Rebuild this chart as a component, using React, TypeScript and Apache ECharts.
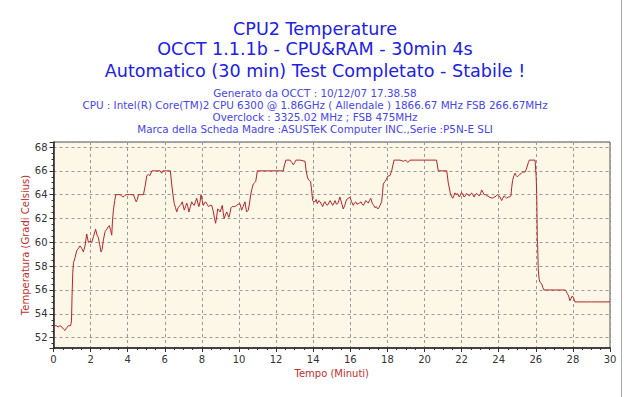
import React, { useEffect, useRef } from "react";
import * as echarts from "echarts";

const titleLines = [
  "CPU2 Temperature",
  "OCCT 1.1.1b - CPU&RAM - 30min 4s",
  "Automatico (30 min) Test Completato - Stabile !",
];
const infoLines = [
  "Generato da OCCT : 10/12/07 17.38.58",
  "CPU : Intel(R) Core(TM)2 CPU 6300 @ 1.86GHz ( Allendale ) 1866.67 MHz FSB 266.67MHz",
  "Overclock : 3325.02 MHz ; FSB 475MHz",
  "Marca della Scheda Madre :ASUSTeK Computer INC.,Serie :P5N-E SLI",
];
const xAxisName = "Tempo (Minuti)";
const yAxisName = "Temperatura (Gradi Celsius)";

// minutes
const times = [
  0.0, 0.15, 0.25, 0.35, 0.45, 0.55, 0.62, 0.7, 0.8, 0.92, 0.97, 1.0, 1.04, 1.08, 1.16, 1.25, 1.35, 1.43, 1.52, 1.61,
  1.7, 1.79, 1.88, 1.97, 2.06, 2.16, 2.27, 2.35, 2.42, 2.49, 2.56, 2.62, 2.69, 2.78, 2.87, 2.95, 3.01, 3.08, 3.14, 3.18,
  3.23, 3.3, 3.36, 3.48, 3.59, 3.67, 3.74, 3.82, 3.92, 4.1, 4.31, 4.38, 4.46, 4.52, 4.58, 4.7, 4.85, 4.95, 5.03, 5.12,
  5.2, 5.3, 5.5, 5.75, 5.83, 5.9, 6.1, 6.3, 6.37, 6.44, 6.51, 6.58, 6.64, 6.72, 6.82, 6.88, 6.94, 7.05, 7.12, 7.18,
  7.24, 7.3, 7.38, 7.45, 7.52, 7.59, 7.65, 7.72, 7.78, 7.84, 7.9, 7.95, 8.02, 8.08, 8.14, 8.2, 8.28, 8.35, 8.44, 8.53,
  8.58, 8.62, 8.68, 8.74, 8.8, 8.85, 8.92, 8.98, 9.04, 9.1, 9.15, 9.2, 9.27, 9.34, 9.4, 9.46, 9.52, 9.57, 9.63, 9.69,
  9.78, 9.87, 9.96, 10.05, 10.14, 10.22, 10.32, 10.41, 10.5, 10.57, 10.63, 10.7, 10.77, 10.84, 10.9, 10.99, 11.5, 12.0, 12.39, 12.45,
  12.53, 12.75, 12.85, 12.93, 13.0, 13.07, 13.3, 13.56, 13.62, 13.7, 13.78, 13.86, 13.92, 13.97, 14.03, 14.1, 14.16, 14.22, 14.3, 14.37,
  14.44, 14.51, 14.58, 14.64, 14.7, 14.76, 14.84, 14.91, 14.98, 15.05, 15.12, 15.18, 15.25, 15.32, 15.38, 15.44, 15.53, 15.62, 15.7, 15.8,
  15.9, 15.98, 16.07, 16.16, 16.22, 16.29, 16.36, 16.43, 16.5, 16.58, 16.64, 16.7, 16.77, 16.83, 16.9, 16.97, 17.03, 17.1, 17.19, 17.26,
  17.33, 17.4, 17.48, 17.54, 17.6, 17.69, 17.74, 17.78, 17.87, 17.95, 18.02, 18.14, 18.23, 18.3, 18.36, 18.68, 18.86, 18.99, 19.1, 19.22,
  19.6, 20.0, 20.4, 20.65, 20.74, 20.9, 21.2, 21.28, 21.41, 21.52, 21.58, 21.64, 21.7, 21.77, 21.88, 22.0, 22.07, 22.13, 22.2, 22.27,
  22.34, 22.41, 22.48, 22.54, 22.6, 22.67, 22.74, 22.81, 22.88, 22.95, 23.02, 23.08, 23.15, 23.21, 23.28, 23.35, 23.42, 23.49, 23.58, 23.67,
  23.73, 23.8, 23.86, 23.92, 24.0, 24.07, 24.16, 24.22, 24.29, 24.36, 24.43, 24.5, 24.57, 24.66, 24.7, 24.75, 24.82, 24.88, 24.94, 25.0,
  25.07, 25.14, 25.22, 25.29, 25.42, 25.48, 25.54, 25.6, 25.65, 25.8, 25.96, 26.02, 26.05, 26.08, 26.1, 26.13, 26.18, 26.23, 26.32, 26.38,
  26.44, 27.0, 27.57, 27.64, 27.7, 27.77, 27.84, 27.9, 27.97, 28.04, 28.11, 29.0, 30.0,
];
// degrees Celsius
const temps = [
  53.0, 53.0, 52.9, 53.0, 52.9, 52.7, 52.6, 52.8, 53.0, 53.0, 53.4, 55.5, 57.5, 58.3, 58.7, 59.3, 59.5, 59.7, 59.5, 59.2,
  59.7, 60.7, 60.0, 60.1, 60.0, 60.5, 61.1, 60.6, 60.4, 59.8, 59.2, 59.4, 60.2, 60.9, 61.1, 61.3, 61.4, 61.0, 60.6, 61.8,
  62.7, 63.5, 64.0, 64.0, 64.0, 63.9, 63.8, 63.9, 64.0, 64.0, 64.0, 63.7, 63.4, 63.6, 64.0, 64.0, 64.0, 64.8, 65.6, 65.7,
  65.6, 66.0, 66.0, 66.0, 65.8, 66.0, 66.0, 66.0, 64.9, 64.0, 63.25, 62.9, 62.55, 62.9, 63.1, 63.2, 63.4, 62.7, 63.0, 63.3,
  63.0, 62.55, 63.0, 63.4, 63.2, 63.1, 63.4, 63.7, 63.3, 63.0, 63.4, 64.0, 63.5, 63.1, 63.3, 63.4, 63.2, 63.0, 63.1, 63.1,
  62.8, 62.55, 62.0, 61.6, 62.2, 62.8, 62.7, 62.55, 62.8, 63.1, 62.5, 62.0, 62.3, 62.55, 62.3, 62.1, 62.5, 62.9, 63.0, 63.0,
  63.0, 63.1, 63.2, 63.25, 62.7, 63.0, 63.4, 62.55, 62.7, 63.3, 64.0, 64.5, 64.9, 65.0, 65.1, 66.0, 66.0, 66.0, 66.0, 66.5,
  66.9, 66.9, 66.7, 66.5, 66.7, 66.9, 66.9, 66.8, 66.0, 65.4, 65.2, 65.1, 64.3, 63.5, 63.4, 63.4, 63.6, 63.25, 63.5, 63.4,
  63.2, 63.0, 63.3, 63.4, 63.2, 63.1, 63.3, 63.5, 63.3, 63.1, 63.3, 63.5, 63.2, 63.25, 63.5, 63.8, 63.3, 62.8, 63.1, 63.6,
  63.7, 63.8, 63.4, 63.1, 63.3, 63.4, 63.2, 63.25, 63.3, 63.4, 63.2, 63.1, 63.3, 63.5, 63.4, 63.3, 63.5, 63.7, 63.25, 63.1,
  62.9, 63.0, 62.8, 62.9, 63.1, 63.4, 64.2, 64.9, 65.1, 65.3, 65.55, 65.6, 66.0, 66.5, 66.9, 66.9, 66.8, 66.9, 66.7, 66.9,
  66.9, 66.9, 66.9, 66.9, 66.0, 66.0, 66.0, 65.0, 64.0, 63.7, 63.9, 64.15, 64.0, 64.1, 63.8, 64.2, 64.0, 63.8, 63.9, 64.1,
  64.0, 63.9, 64.0, 64.15, 64.0, 63.8, 64.0, 64.1, 64.0, 63.9, 64.1, 64.4, 64.2, 64.0, 64.0, 63.9, 63.9, 63.8, 63.75, 63.7,
  63.8, 63.8, 63.9, 64.0, 63.9, 63.8, 63.5, 63.7, 63.9, 63.8, 63.7, 63.8, 63.8, 63.9, 64.6, 65.2, 65.6, 65.8, 65.6, 65.5,
  65.6, 65.7, 65.8, 65.9, 65.9, 66.1, 66.4, 66.7, 66.9, 66.9, 66.9, 65.5, 64.0, 60.3, 59.8, 57.8, 56.9, 56.65, 56.5, 56.2,
  56.0, 56.0, 56.0, 55.9, 55.7, 55.5, 55.1, 55.3, 55.5, 55.3, 55.0, 55.0, 55.0,
];

const seriesData = times.map((t, i) => [t, temps[i]]);

export default function App() {
  const ref = useRef<HTMLDivElement>(null);
  useEffect(() => {
    if (!ref.current) return;
    const chart = echarts.init(ref.current, null, { renderer: "svg" });
    const font = "DejaVu Sans";
    const graphics: any[] = [
      {
        type: "line",
        shape: { x1: 621.5, y1: 0, x2: 621.5, y2: 397 },
        style: { stroke: "#a8a8a8", lineWidth: 1 },
      },
    ];
    const titleY = [29, 49, 71];
    titleLines.forEach((t, i) =>
      graphics.push({
        type: "text",
        x: 315,
        y: titleY[i],
        style: {
          text: t,
          fill: "#2020e6",
          fontSize: 17.6,
          fontFamily: font,
          textAlign: "center",
          textVerticalAlign: "middle",
        },
      })
    );
    const infoY = [93, 105, 117, 129];
    infoLines.forEach((t, i) =>
      graphics.push({
        type: "text",
        x: 315,
        y: infoY[i],
        style: {
          text: t,
          fill: "#4646f0",
          fontSize: 10.4,
          fontFamily: font,
          textAlign: "center",
          textVerticalAlign: "middle",
        },
      })
    );
    chart.setOption({
      animation: false,
      backgroundColor: "#ffffff",
      graphic: graphics,
      grid: {
        left: 53.5,
        right: 20,
        top: 142,
        bottom: 49,
        show: true,
        backgroundColor: "#fdf7e8",
        borderColor: "#555",
        borderWidth: 1,
      },
      xAxis: {
        type: "value",
        min: 0,
        max: 30,
        interval: 2,
        name: xAxisName,
        nameLocation: "middle",
        nameGap: 20,
        nameMoveOverlap: false,
        nameTextStyle: { color: "#c03030", fontSize: 10, fontFamily: font },
        axisLine: { show: true, lineStyle: { color: "#222", width: 1.5 } },
        axisTick: { show: true, length: 4, lineStyle: { color: "#333" } },
        minorTick: { show: true, splitNumber: 4, length: 2, lineStyle: { color: "#333" } },
        axisLabel: { color: "#333", fontSize: 10, fontFamily: font, margin: 6 },
        splitLine: { show: true, lineStyle: { color: "#999", type: [3, 3], width: 1 } },
      },
      yAxis: {
        type: "value",
        min: 51.13,
        max: 68.42,
        splitNumber: 8,
        name: yAxisName,
        nameLocation: "middle",
        nameGap: 23,
        nameMoveOverlap: false,
        nameTextStyle: { color: "#c03030", fontSize: 10, fontFamily: font },
        axisLine: { show: true, lineStyle: { color: "#222", width: 1.5 } },
        axisTick: { show: true, length: 4, lineStyle: { color: "#333" } },
        minorTick: { show: true, splitNumber: 4, length: 2, lineStyle: { color: "#333" } },
        axisLabel: {
          color: "#333",
          fontSize: 10,
          fontFamily: font,
          margin: 6,
          showMinLabel: false,
          showMaxLabel: false,
        },
        splitLine: { show: true, lineStyle: { color: "#999", type: [3, 3], width: 1 } },
      },
      series: [
        {
          type: "line",
          data: seriesData,
          showSymbol: false,
          symbol: "none",
          lineStyle: { color: "#b3262b", width: 1 },
        },
      ],
    });
    return () => chart.dispose();
  }, []);
  return (
    <div
      ref={ref}
      style={{ position: "fixed", left: 0, top: 0, width: 630, height: 397 }}
    />
  );
}
